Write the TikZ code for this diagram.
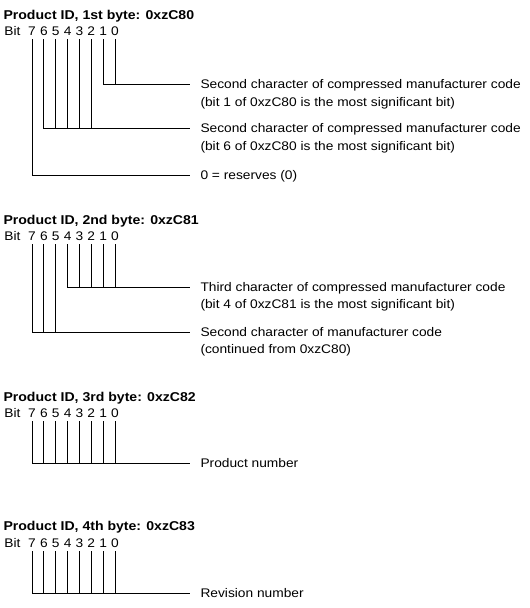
\documentclass[tikz,border=0pt]{standalone}
\usepackage{fontspec}
\setmainfont{Liberation Sans}[FakeStretch=1.1]
\tikzset{
  title/.style={anchor=base west, inner sep=0, font=\fontsize{12.8}{15}\selectfont\bfseries},
  txt/.style={anchor=base west, inner sep=0, font=\fontsize{12.5}{15}\selectfont},
  digit/.style={inner sep=0, outer sep=4pt, font=\fontsize{12.5}{15}\selectfont}
}
\begin{document}
\begin{tikzpicture}[x=1pt, y=-1pt, line width=1pt]
	\useasboundingbox (0,0) rectangle (530,608);

	% 1st byte
	\node[title] (t80) at (3,19) {Product ID, 1st byte: 0xzC80};
	\node[txt] (bit80) at (4,35.5) {Bit};
	\foreach \b in {0,...,7}
	\node[digit] (c80-\b) at ({115-11.85*\b},31) {\b};
	\coordinate (e80a) at (190,84);
	\coordinate (e80b) at (190,128);
	\coordinate (e80c) at (190,175);
	\node[txt] (n80a) at (200,88.5) {Second character of compressed manufacturer code};
	\node[txt] (n80b) at ([yshift=-18pt]n80a.base west) {(bit 1 of 0xzC80 is the most significant bit)};
	\node[txt] (n80c) at (200,132.5) {Second character of compressed manufacturer code};
	\node[txt] (n80d) at ([yshift=-18pt]n80c.base west) {(bit 6 of 0xzC80 is the most significant bit)};
	\node[txt] (n80e) at (200,179.5) {0 = reserves (0)};
	% bits 1-0
	\draw (c80-1.south) |- (e80a);
	\draw (c80-0.south) -- (c80-0.south |- e80a);
	% bits 6-2
	\draw (c80-6.south) |- (e80b);
	\foreach \b in {2,...,5}
	\draw (c80-\b.south) -- (c80-\b.south |- e80b);
	% bit 7
	\draw (c80-7.south) |- (e80c);

	% 2nd byte
	\node[title] (t81) at (3,224) {Product ID, 2nd byte: 0xzC81};
	\node[txt] (bit81) at (4,240.5) {Bit};
	\foreach \b in {0,...,7}
	\node[digit] (c81-\b) at ({115-11.85*\b},236) {\b};
	\coordinate (e81a) at (190,287);
	\coordinate (e81b) at (190,332);
	\node[txt] (n81a) at (200,291.5) {Third character of compressed manufacturer code};
	\node[txt] (n81b) at ([yshift=-17pt]n81a.base west) {(bit 4 of 0xzC81 is the most significant bit)};
	\node[txt] (n81c) at (200,336.5) {Second character of manufacturer code};
	\node[txt] (n81d) at ([yshift=-17pt]n81c.base west) {(continued from 0xzC80)};
	% bits 4-0
	\draw (c81-4.south) |- (e81a);
	\foreach \b in {0,...,3}
	\draw (c81-\b.south) -- (c81-\b.south |- e81a);
	% bits 7-5
	\draw (c81-7.south) |- (e81b);
	\foreach \b in {5,6}
	\draw (c81-\b.south) -- (c81-\b.south |- e81b);

	% 3rd byte
	\node[title] (t82) at (3,401) {Product ID, 3rd byte: 0xzC82};
	\node[txt] (bit82) at (4,417.5) {Bit};
	\foreach \b in {0,...,7}
	\node[digit] (c82-\b) at ({115-11.85*\b},413) {\b};
	\coordinate (e82) at (190,463);
	\node[txt] (n82) at (200,467.5) {Product number};
	\draw (c82-7.south) |- (e82);
	\foreach \b in {0,...,6}
	\draw (c82-\b.south) -- (c82-\b.south |- e82);

	% 4th byte
	\node[title] (t83) at (3,530) {Product ID, 4th byte: 0xzC83};
	\node[txt] (bit83) at (4,547.5) {Bit};
	\foreach \b in {0,...,7}
	\node[digit] (c83-\b) at ({115-11.85*\b},543) {\b};
	\coordinate (e83) at (190,593);
	\node[txt] (n83) at (200,597.5) {Revision number};
	\draw (c83-7.south) |- (e83);
	\foreach \b in {0,...,6}
	\draw (c83-\b.south) -- (c83-\b.south |- e83);
\end{tikzpicture}
\end{document}
